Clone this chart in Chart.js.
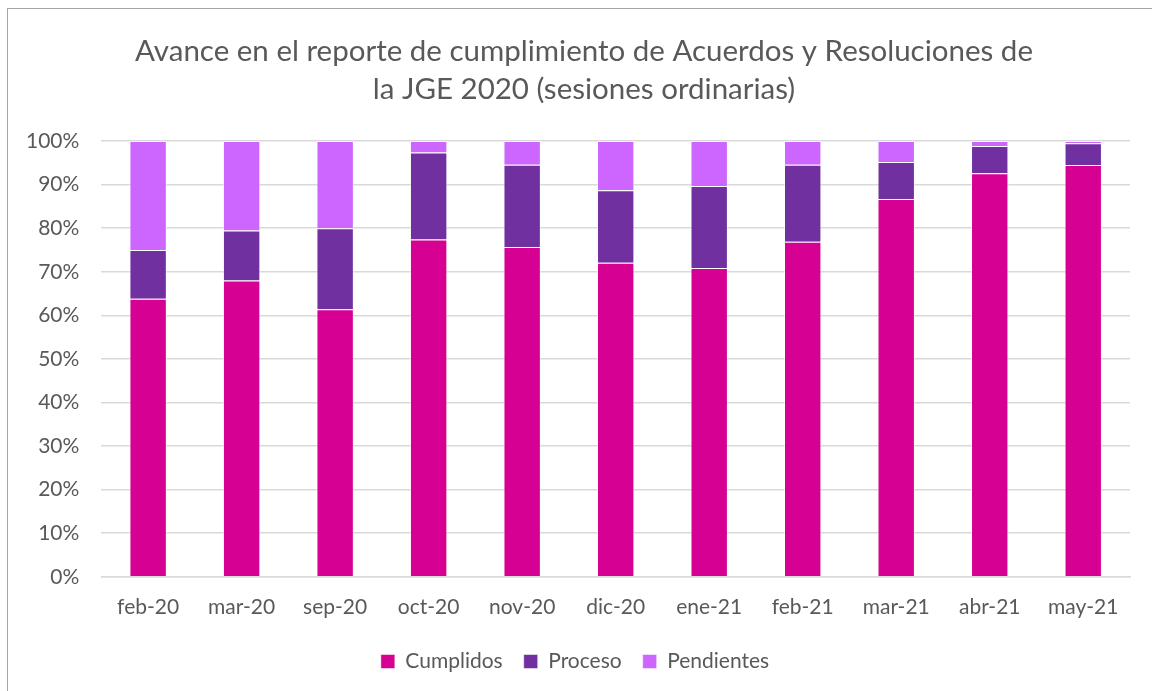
<!DOCTYPE html>
<html>
<head>
<meta charset="utf-8">
<script src="https://cdn.jsdelivr.net/npm/chart.js@4"></script>
<style>
  html, body { margin: 0; padding: 0; background: #fff; }
  #frame {
    position: absolute; left: 7px; top: 8px; width: 1160px; height: 700px;
    border-left: 1.5px solid #a6a6a6; border-top: 1.5px solid #a6a6a6;
  }
  #wrap { position: absolute; left: 0; top: 0; width: 1152px; height: 691px; }
</style>
</head>
<body>
<div id="frame"></div>
<div id="wrap"><canvas id="myChart"></canvas></div>
<script>
const meses = ['feb-20', 'mar-20', 'sep-20', 'oct-20', 'nov-20', 'dic-20', 'ene-21', 'feb-21', 'mar-21', 'abr-21', 'may-21'];
const cumplidos = [63.8, 68.0, 61.4, 77.4, 75.7, 72.1, 70.9, 76.9, 86.7, 92.6, 94.5];
const proceso = [11.2, 11.5, 18.6, 20.0, 18.9, 16.6, 18.8, 17.7, 8.5, 6.3, 5.0];
const pendientes = [25.0, 20.5, 20.0, 2.6, 5.4, 11.3, 10.3, 5.4, 4.8, 1.1, 0.5];
const yTicks = ['0%', '10%', '20%', '30%', '40%', '50%', '60%', '70%', '80%', '90%', '100%'];

const fuente = 'Lato, "Open Sans", sans-serif';
const gris = '#595959';

// el título y la leyenda de Excel van centrados en el marco, no en el área del gráfico
const centrarBloques = {
  id: 'centrarBloques',
  afterLayout(chart) {
    chart.titleBlock.left += 34;
    chart.legend.left += 16;
  },
};

const ctx = document.getElementById('myChart');

new Chart(ctx, {
  type: 'bar',
  data: {
    labels: meses,
    datasets: [
      {
        label: 'Cumplidos',
        data: cumplidos,
        backgroundColor: '#d60093',
        borderColor: 'rgba(255,255,255,0.5)',
        borderWidth: 1,
      },
      {
        label: 'Proceso',
        data: proceso,
        backgroundColor: '#7030a0',
        borderColor: 'rgba(255,255,255,0.5)',
        borderWidth: 1,
      },
      {
        label: 'Pendientes',
        data: pendientes,
        backgroundColor: '#cc66ff',
        borderColor: 'rgba(255,255,255,0.5)',
        borderWidth: 1,
      },
    ],
  },
  options: {
    responsive: true,
    maintainAspectRatio: false,
    animation: false,
    layout: {
      padding: { left: 4, right: 22, top: 20, bottom: 9 },
    },
    datasets: {
      bar: { barPercentage: 0.4, categoryPercentage: 1 },
    },
    plugins: {
      title: {
        display: true,
        text: ['Avance en el reporte de cumplimiento de Acuerdos y Resoluciones de', 'la JGE 2020 (sesiones ordinarias)'],
        color: gris,
        font: { family: fuente, size: 29.5, weight: 'normal', lineHeight: 1.29 },
        padding: { top: 12, bottom: 33 },
      },
      legend: {
        position: 'bottom',
        labels: {
          color: gris,
          font: { family: fuente, size: 21 },
          boxWidth: 14,
          boxHeight: 14,
          padding: 21,
        },
      },
      tooltip: { enabled: false },
    },
    scales: {
      x: {
        stacked: true,
        grid: { display: false },
        border: { color: '#d9d9d9', width: 1.5 },
        ticks: { color: gris, font: { family: fuente, size: 21 }, padding: 10 },
      },
      y: {
        stacked: true,
        min: 0,
        max: 100,
        grid: { color: '#d9d9d9', lineWidth: 1.5, drawTicks: false },
        border: { display: false },
        ticks: {
          stepSize: 10,
          color: gris,
          font: { family: fuente, size: 21 },
          padding: 22,
          callback: (v) => yTicks[Math.round(v / 10)],
        },
      },
    },
  },
  plugins: [centrarBloques],
});
</script>
</body>
</html>
